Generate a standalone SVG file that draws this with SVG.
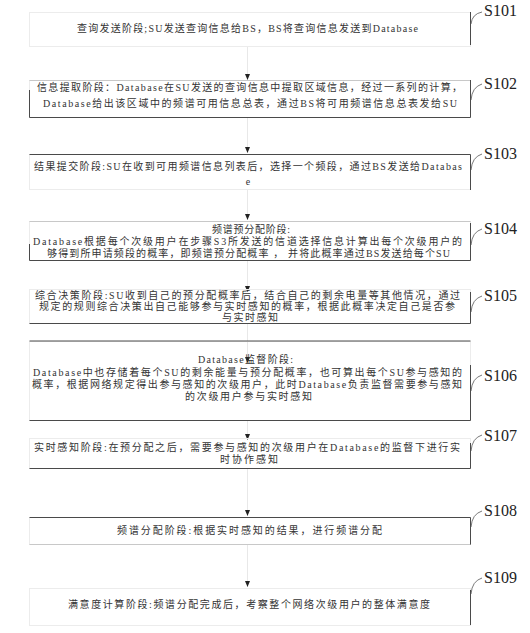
<svg xmlns="http://www.w3.org/2000/svg" width="530" height="633" viewBox="0 0 530 633">
<style>
.box{fill:none;stroke:#ececec;stroke-width:1}
.dk{stroke:#4a4a4a;stroke-width:1;fill:none}
.lt{stroke:#c8c8c8;stroke-width:1;fill:none}
.t{font-family:"Liberation Serif","Noto Sans CJK SC",serif;font-size:10px;fill:#333;text-anchor:middle}
.lab{font-family:"Liberation Serif",serif;font-size:16px;fill:#222}
.lead{fill:none;stroke:#555;stroke-width:0.8}
.conn{stroke:#e8e8e8;stroke-width:1;fill:none;marker-end:url(#ah)}
</style>
<defs>
<marker id="ah" markerUnits="userSpaceOnUse" markerWidth="6" markerHeight="5" refX="6" refY="2.5" orient="auto">
<path d="M0,0 L6,2.5 L0,5 z" fill="#222"/>
</marker>
</defs>
<rect width="530" height="633" fill="#fff"/>

<g id="connectors">
<line class="conn" x1="247.5" y1="46" x2="247.5" y2="80"/>
<line class="conn" x1="247.5" y1="118" x2="247.5" y2="153"/>
<line class="conn" x1="247.5" y1="190" x2="247.5" y2="220"/>
<line class="conn" x1="247.5" y1="261" x2="247.5" y2="292"/>
<line class="conn" x1="247.5" y1="324" x2="247.5" y2="363"/>
<line class="conn" x1="247.5" y1="420" x2="247.5" y2="440"/>
<line class="conn" x1="247.5" y1="469" x2="247.5" y2="516"/>
<line class="conn" x1="247.5" y1="545" x2="247.5" y2="587"/>
</g>

<g id="S101">
<rect class="box" x="29.5" y="12.5" width="441" height="34"/>
<path class="dk" d="M470.5,12 V45"/>
<text class="t" x="247.5" y="32" textLength="341" lengthAdjust="spacing">查询发送阶段;SU发送查询信息给BS，BS将查询信息发送到Database</text>
<path class="lead" d="M482,12 Q472,14 471,24"/>
<text class="lab" x="484" y="16">S101</text>
</g>

<g id="S102">
<rect class="box" x="29.5" y="80.5" width="441" height="37"/>
<path class="lt" d="M29.5,80.5 H470.5"/>
<path class="dk" d="M29.5,90 V117.5 H470.5 V80"/>
<text class="t" x="249.5" y="91" textLength="425" lengthAdjust="spacing">信息提取阶段：Database在SU发送的查询信息中提取区域信息，经过一系列的计算，</text>
<text class="t" x="250" y="107" textLength="414" lengthAdjust="spacing">Database给出该区域中的频谱可用信息总表，通过BS将可用频谱信息总表发给SU</text>
<path class="lead" d="M482,84 Q472,87 471,100"/>
<text class="lab" x="484" y="89">S102</text>
</g>

<g id="S103">
<rect class="box" x="29.5" y="154.5" width="441" height="35"/>
<path class="dk" d="M29.5,154.5 H470.5 V190"/>
<text class="t" x="248" y="170" textLength="428" lengthAdjust="spacing">结果提交阶段:SU在收到可用频谱信息列表后，选择一个频段，通过BS发送给Databas</text>
<text class="t" x="248" y="185">e</text>
<path class="lead" d="M482,154 Q472,157 471,170"/>
<text class="lab" x="484" y="159">S103</text>
</g>

<g id="S104">
<rect class="box" x="29.5" y="221.5" width="441" height="39"/>
<path class="lt" d="M29.5,221.5 H470.5"/>
<path class="dk" d="M29.5,244 V260.5 H470.5 V223"/>
<text class="t" x="251" y="233" textLength="78" lengthAdjust="spacing">频谱预分配阶段:</text>
<text class="t" x="247.5" y="245" textLength="429" lengthAdjust="spacing">Database根据每个次级用户在步骤S3所发送的信道选择信息计算出每个次级用户的</text>
<text class="t" x="248.5" y="257" textLength="403" lengthAdjust="spacing">够得到所申请频段的概率，即频谱预分配概率 ， 并将此概率通过BS发送给每个SU</text>
<path class="lead" d="M482,229 Q472,232 471,245"/>
<text class="lab" x="484" y="234">S104</text>
</g>

<g id="S105">
<rect class="box" x="29.5" y="289.5" width="441" height="34"/>
<path class="dk" d="M29.5,323.5 H470.5 V292"/>
<text class="t" x="247.5" y="299" textLength="425" lengthAdjust="spacing">综合决策阶段:SU收到自己的预分配概率后，结合自己的剩余电量等其他情况，通过</text>
<text class="t" x="247" y="310" textLength="416" lengthAdjust="spacing">规定的规则综合决策出自己能够参与实时感知的概率，根据此概率决定自己是否参</text>
<text class="t" x="250" y="321" textLength="56" lengthAdjust="spacing">与实时感知</text>
<path class="lead" d="M482,296 Q472,299 471,312"/>
<text class="lab" x="484" y="301">S105</text>
</g>

<g id="S106">
<rect class="box" x="29.5" y="341.5" width="441" height="79"/>
<path class="dk" d="M29.5,341 H470.5" stroke-width="1.6"/>
<path class="dk" d="M470.5,365 V420.5 H29.5"/>
<text class="t" x="245.5" y="363" textLength="95" lengthAdjust="spacing">Database监督阶段:</text>
<text class="t" x="247.5" y="376" textLength="429" lengthAdjust="spacing">Database中也存储着每个SU的剩余能量与预分配概率，也可算出每个SU参与感知的</text>
<text class="t" x="247" y="388" textLength="430" lengthAdjust="spacing">概率，根据网络规定得出参与感知的次级用户，此时Database负责监督需要参与感知</text>
<text class="t" x="248.5" y="400" textLength="127" lengthAdjust="spacing">的次级用户参与实时感知</text>
<path class="lead" d="M482,375 Q472,378 471,391"/>
<text class="lab" x="484" y="381">S106</text>
</g>

<g id="S107">
<rect class="box" x="29.5" y="438.5" width="441" height="30"/>
<path class="dk" d="M29.5,468.5 H470.5 V443"/>
<text class="t" x="247" y="451" textLength="426" lengthAdjust="spacing">实时感知阶段:在预分配之后，需要参与感知的次级用户在Database的监督下进行实</text>
<text class="t" x="249" y="463" textLength="58" lengthAdjust="spacing">时协作感知</text>
<path class="lead" d="M482,435 Q472,438 471,451"/>
<text class="lab" x="484" y="441">S107</text>
</g>

<g id="S108">
<rect class="box" x="29.5" y="517.5" width="441" height="27"/>
<path class="dk" d="M29.5,517.5 H470.5 V545"/>
<path class="lt" d="M29.5,544.5 H470.5"/>
<text class="t" x="249.5" y="534" textLength="265" lengthAdjust="spacing">频谱分配阶段:根据实时感知的结果，进行频谱分配</text>
<path class="lead" d="M482,511 Q472,514 471,527"/>
<text class="lab" x="484" y="516">S108</text>
</g>

<g id="S109">
<rect class="box" x="29.5" y="588.5" width="441" height="37"/>
<path class="dk" d="M470.5,590 V625"/>
<text class="t" x="249" y="608" textLength="362" lengthAdjust="spacing">满意度计算阶段:频谱分配完成后，考察整个网络次级用户的整体满意度</text>
<path class="lead" d="M482,578 Q472,581 471,594"/>
<text class="lab" x="484" y="583">S109</text>
</g>
</svg>
